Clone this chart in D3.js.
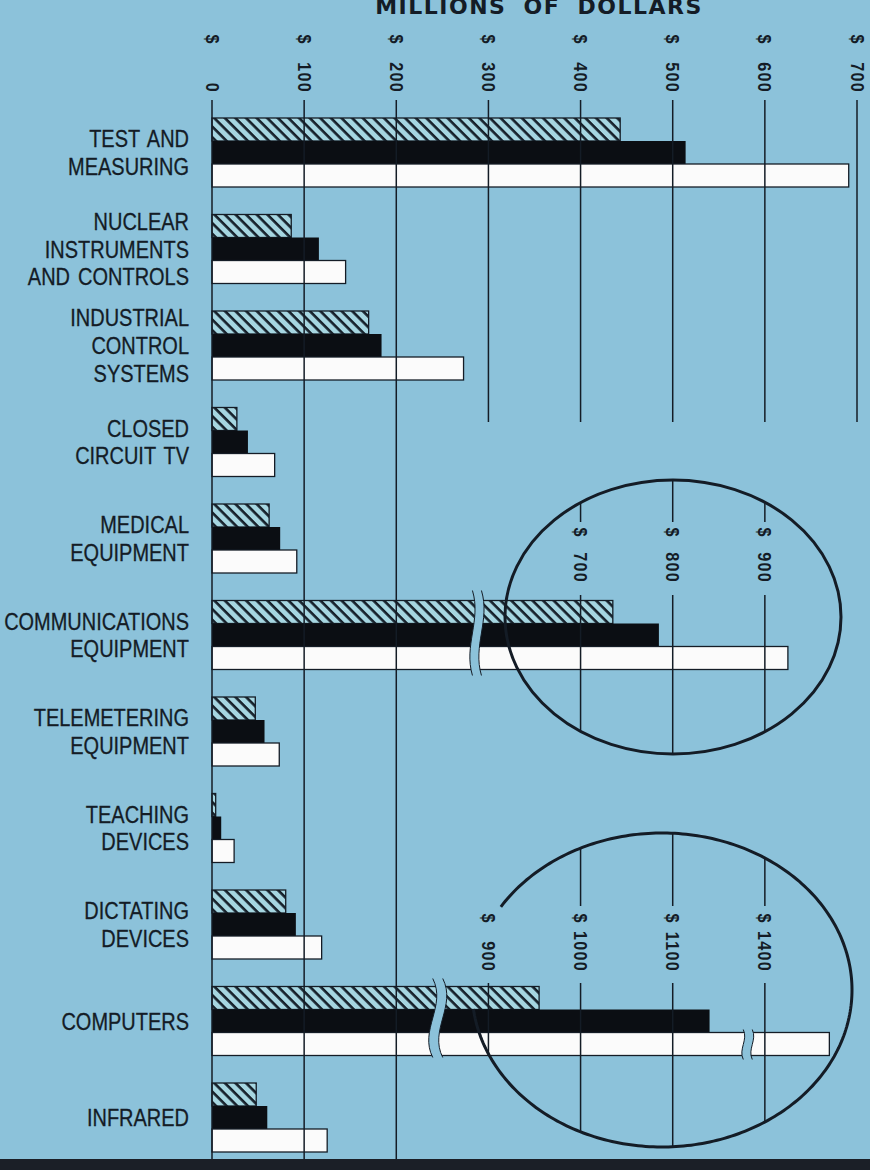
<!doctype html>
<html lang="en">
<head>
    <meta http-equiv="content-type" content="text/html; charset=utf-8" />
    <title>Millions of dollars</title>
    <style>
        html, body { margin: 0; padding: 0; background: #8cc2da; }
        #chart { display: block; }
    </style>
</head>
<body>
    <svg id="chart"></svg>

    <script src="https://cdn.jsdelivr.net/npm/d3@7"></script>
    <script>
        // categories, top to bottom ("|" = line break)
        const categories = [
            "TEST AND|MEASURING",
            "NUCLEAR|INSTRUMENTS|AND CONTROLS",
            "INDUSTRIAL|CONTROL|SYSTEMS",
            "CLOSED|CIRCUIT TV",
            "MEDICAL|EQUIPMENT",
            "COMMUNICATIONS|EQUIPMENT",
            "TELEMETERING|EQUIPMENT",
            "TEACHING|DEVICES",
            "DICTATING|DEVICES",
            "COMPUTERS",
            "INFRARED"
        ];

        // millions of dollars, three series per category
        const hatchedValues = [443, 86, 170, 27, 62, 735, 47, 4, 80, 955, 48];
        const blackValues   = [514, 116, 184, 39, 74, 785, 57, 10, 91, 1140, 60];
        const whiteValues   = [691, 145, 273, 68, 92, 925, 73, 24, 119, 1470, 125];

        const axisTicks = [0, 100, 200, 300, 400, 500, 600, 700];
        const commTicks = [700, 800, 900];
        const compTicks = [900, 1000, 1100, 1400];

        const BG = "#8cc2da", INK = "#141c26";

        renderChart("#chart");

        function renderChart(container) {
            const width = 870, height = 1170;
            const svg = d3.select(container)
                .attr("width", width)
                .attr("height", height)
                .attr("viewBox", [0, 0, width, height]);

            const defs = svg.append("defs");
            defs.append("pattern")
                .attr("id", "hatch")
                .attr("patternUnits", "userSpaceOnUse")
                .attr("width", 7.5).attr("height", 7.5)
                .attr("patternTransform", "rotate(-45)")
                .call(p => {
                    p.append("rect").attr("width", 7.5).attr("height", 7.5).attr("fill", "#a6d6e1");
                    p.append("line").attr("x1", 1.5).attr("y1", 0).attr("x2", 1.5).attr("y2", 7.5)
                        .attr("stroke", "#16202a").attr("stroke-width", 2.6);
                });

            svg.append("rect").attr("width", width).attr("height", height).attr("fill", BG);

            // main scale and the broken scales used in the two circles
            const x = d3.scaleLinear([0, 700], [212, 857]);
            const commBreak = 287, compBreak1 = 245, compBreak2 = 582;
            const xComm = d3.scaleLinear()
                .domain([0, commBreak, commBreak + 300, 1000])
                .range([x(0), x(commBreak), x(commBreak), x(700)]);
            const xComp = d3.scaleLinear()
                .domain([0, compBreak1, compBreak1 + 600, compBreak2 + 600, compBreak2 + 800, 1600])
                .range([x(0), x(compBreak1), x(compBreak1), x(compBreak2), x(compBreak2), x(800)]);
            const scaleFor = i => i === 5 ? xComm : (i === 9 ? xComp : x);

            const y = d3.scaleBand(d3.range(categories.length), [118, 1152]).paddingInner(0.285);
            const keys = ["hatched", "black", "white"];
            const ySub = d3.scaleBand(keys, [0, y.bandwidth()]);

            const rows = categories.map((c, i) => ({
                i, label: c.split("|"),
                bars: [
                    {key: "hatched", value: hatchedValues[i]},
                    {key: "black", value: blackValues[i]},
                    {key: "white", value: whiteValues[i]}
                ]
            }));

            // title
            svg.append("text")
                .attr("x", 539).attr("y", 14)
                .attr("text-anchor", "middle")
                .attr("font-family", "DejaVu Sans, sans-serif")
                .attr("font-weight", "bold")
                .attr("font-size", 22)
                .attr("letter-spacing", 1.5)
                .attr("word-spacing", 8)
                .attr("fill", INK)
                .text("MILLIONS OF DOLLARS");

            // category labels (narrow grotesque look: Arial metrics squeezed)
            const labelFont = "'Liberation Sans', Arial, sans-serif";
            svg.append("g")
                .attr("font-family", labelFont)
                .attr("font-size", 23.5)
                .attr("fill", INK)
                .attr("stroke", INK)
                .attr("stroke-width", 0.3)
                .attr("text-anchor", "end")
                .selectAll("text")
                .data(rows)
                .join("text")
                .attr("transform", d => `translate(189, ${y(d.i) + y.bandwidth() / 2}) scale(0.85, 1)`)
                .selectAll("tspan")
                .data(d => d.label)
                .join("tspan")
                .attr("x", 0)
                .attr("y", (d, i, e) => ((i - (e.length - 1) / 2) * 28 + 8.5))
                .attr("word-spacing", 3)
                .text(d => d);

            // bars
            const barG = svg.append("g");
            const group = barG.selectAll("g")
                .data(rows)
                .join("g")
                .attr("transform", d => `translate(0, ${y(d.i)})`);
            group.selectAll("rect")
                .data(d => d.bars.map(b => ({...b, sx: scaleFor(d.i)})))
                .join("rect")
                .attr("x", x(0))
                .attr("y", d => ySub(d.key))
                .attr("width", d => d.sx(d.value) - x(0))
                .attr("height", ySub.bandwidth())
                .attr("fill", d => d.key === "hatched" ? "url(#hatch)" : (d.key === "black" ? "#0b0e13" : "#fbfbfb"))
                .attr("stroke", INK)
                .attr("stroke-width", d => d.key === "black" ? 0 : 1.3);

            // grid lines of the main axis
            svg.append("g")
                .attr("stroke", INK)
                .attr("stroke-width", 1.5)
                .selectAll("line")
                .data(axisTicks)
                .join("line")
                .attr("x1", d => x(d)).attr("x2", d => x(d))
                .attr("y1", 100)
                .attr("y2", d => d <= 200 ? 1170 : 422);

            // rotated tick labels
            const tickFont = "'Liberation Sans', Arial, sans-serif";
            const tickLabel = (g, xs, vals, yDollar, yEnd) => {
                const t = g.selectAll("g")
                    .data(vals)
                    .join("g")
                    .attr("font-family", tickFont)
                    .attr("font-weight", "bold")
                    .attr("font-size", 19)
                    .attr("fill", INK);
                t.append("text")
                    .attr("transform", d => `translate(${xs(d) - 6.5}, ${yDollar}) rotate(90) scale(0.85, 1)`)
                    .attr("text-anchor", "middle")
                    .text("$");
                t.append("text")
                    .attr("transform", d => `translate(${xs(d) - 6.5}, ${yEnd}) rotate(90) scale(0.85, 1)`)
                    .attr("text-anchor", "end")
                    .attr("letter-spacing", 1.5)
                    .text(d => d);
            };
            svg.append("g").call(tickLabel, x, axisTicks, 39, 93);

            // break marks
            const breakMark = (bx, y0, y1, amp, gap) => {
                const h = y1 - y0;
                const edge = dx => `M${bx + dx},${y0} C${bx + dx + amp},${y0 + h * 0.35} ${bx + dx - amp},${y0 + h * 0.65} ${bx + dx},${y1}`;
                const g = svg.append("g");
                g.append("path")
                    .attr("d", `M${bx},${y0} C${bx + amp},${y0 + h * 0.35} ${bx - amp},${y0 + h * 0.65} ${bx},${y1}
                        L${bx + gap},${y1} C${bx + gap - amp},${y0 + h * 0.65} ${bx + gap + amp},${y0 + h * 0.35} ${bx + gap},${y0} Z`)
                    .attr("fill", BG);
                g.selectAll("path.edge")
                    .data([0, gap])
                    .join("path")
                    .attr("class", "edge")
                    .attr("d", d => edge(d))
                    .attr("fill", "none")
                    .attr("stroke", INK)
                    .attr("stroke-width", 1);
            };
            const commTop = y(5), compTop = y(9);
            breakMark(x(commBreak) - 4, commTop - 10, commTop + y.bandwidth() + 6, 9, 9);
            breakMark(x(compBreak1) - 5, compTop - 8, compTop + y.bandwidth() + 2, 14, 10);
            breakMark(x(compBreak2) - 5, compTop + ySub("white") - 3, compTop + y.bandwidth() + 4, 5, 9);

            // circles with the broken-axis scales
            const ell1 = {cx: 673, cy: 617, rx: 168, ry: 137};
            const ell2 = {cx: 662, cy: 990, rx: 190, ry: 157};
            [ell1, ell2].forEach((e, k) => {
                defs.append("clipPath").attr("id", "clip" + k)
                    .append("ellipse")
                    .attr("cx", e.cx).attr("cy", e.cy).attr("rx", e.rx).attr("ry", e.ry);
            });

            const insetGrid = (xs, vals, clipId, e, gapTop, gapBottom) => {
                const g = svg.append("g")
                    .attr("clip-path", `url(#${clipId})`)
                    .attr("stroke", INK)
                    .attr("stroke-width", 1.5);
                vals.forEach(v => {
                    g.append("line").attr("x1", xs(v)).attr("x2", xs(v))
                        .attr("y1", e.cy - e.ry).attr("y2", gapTop);
                    g.append("line").attr("x1", xs(v)).attr("x2", xs(v))
                        .attr("y1", gapBottom).attr("y2", e.cy + e.ry);
                });
            };
            insetGrid(xComm, commTicks, "clip0", ell1, 522, 595);
            insetGrid(xComp, compTicks, "clip1", ell2, 906, 983);

            svg.append("g").call(tickLabel, xComm, commTicks, 532, 583);
            svg.append("g").call(tickLabel, xComp, compTicks, 918, 972);

            svg.append("ellipse")
                .attr("cx", ell1.cx).attr("cy", ell1.cy).attr("rx", ell1.rx).attr("ry", ell1.ry)
                .attr("fill", "none").attr("stroke", INK).attr("stroke-width", 3);

            const t0 = 3.70, t1 = 2 * Math.PI + 3.02;
            const arcPts = d3.range(t0, t1, 0.02).concat([t1])
                .map(t => [ell2.cx + ell2.rx * Math.cos(t), ell2.cy + ell2.ry * Math.sin(t)]);
            svg.append("path")
                .attr("d", d3.line()(arcPts))
                .attr("fill", "none").attr("stroke", INK).attr("stroke-width", 3);

            // dark strip at the bottom
            svg.append("rect")
                .attr("x", 0).attr("y", 1159).attr("width", width).attr("height", 11)
                .attr("fill", "#1b1f27");
        }
    </script>
</body>
</html>
